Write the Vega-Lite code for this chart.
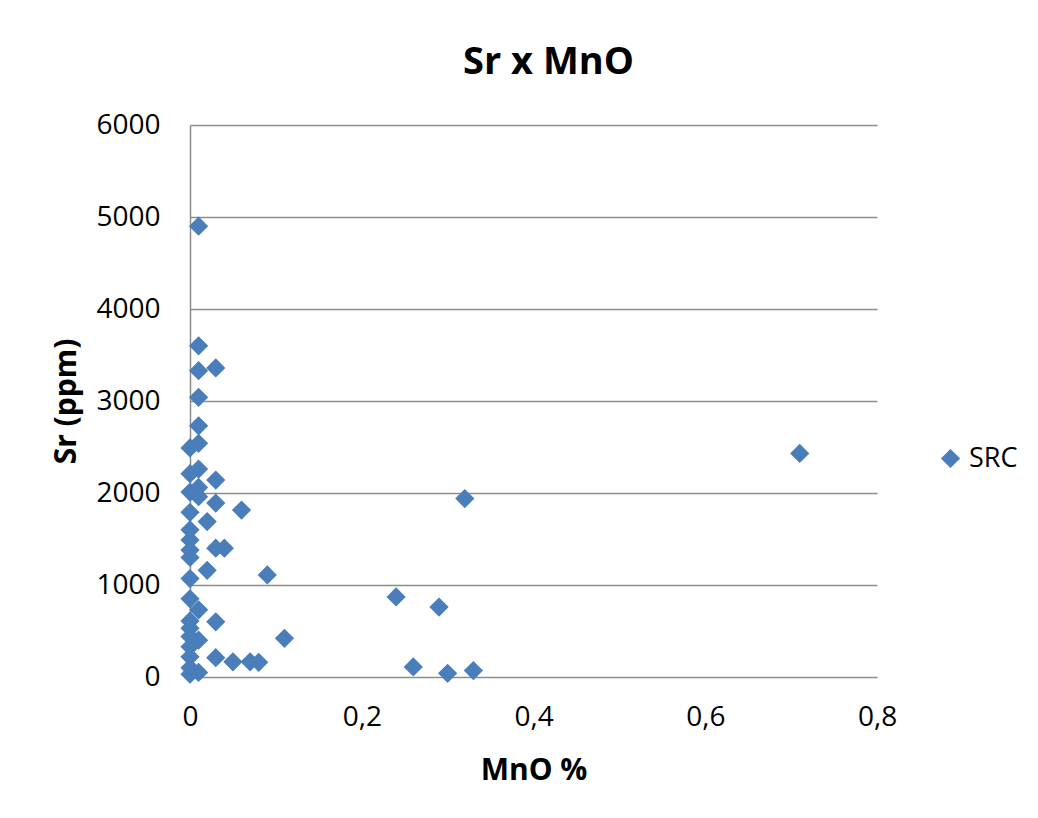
{
  "$schema": "https://vega.github.io/schema/vega-lite/v6.json",
  "autosize": "none",
  "width": 687,
  "height": 552,
  "padding": {"left": 190, "top": 125, "right": 161, "bottom": 141},
  "background": "white",
  "title": {"text": "Sr x MnO", "font": "Open Sans", "fontSize": 38, "fontWeight": "bold", "color": "#000000", "anchor": "middle", "frame": "group", "baseline": "alphabetic", "offset": -1, "dx": 15},
  "config": {
    "view": {"stroke": null},
    "font": "Open Sans"
  },
  "data": {"values": [
    {"mno": 0.01, "sr": 4900, "s": "SRC"},
    {"mno": 0.01, "sr": 3600, "s": "SRC"},
    {"mno": 0.01, "sr": 3330, "s": "SRC"},
    {"mno": 0.03, "sr": 3360, "s": "SRC"},
    {"mno": 0.01, "sr": 3040, "s": "SRC"},
    {"mno": 0.01, "sr": 2730, "s": "SRC"},
    {"mno": 0.01, "sr": 2540, "s": "SRC"},
    {"mno": 0, "sr": 2490, "s": "SRC"},
    {"mno": 0.01, "sr": 2260, "s": "SRC"},
    {"mno": 0, "sr": 2210, "s": "SRC"},
    {"mno": 0.03, "sr": 2140, "s": "SRC"},
    {"mno": 0.01, "sr": 2060, "s": "SRC"},
    {"mno": 0, "sr": 2010, "s": "SRC"},
    {"mno": 0.01, "sr": 1960, "s": "SRC"},
    {"mno": 0.03, "sr": 1890, "s": "SRC"},
    {"mno": 0.06, "sr": 1815, "s": "SRC"},
    {"mno": 0, "sr": 1790, "s": "SRC"},
    {"mno": 0.02, "sr": 1690, "s": "SRC"},
    {"mno": 0, "sr": 1600, "s": "SRC"},
    {"mno": 0, "sr": 1490, "s": "SRC"},
    {"mno": 0, "sr": 1380, "s": "SRC"},
    {"mno": 0, "sr": 1300, "s": "SRC"},
    {"mno": 0.03, "sr": 1400, "s": "SRC"},
    {"mno": 0.04, "sr": 1400, "s": "SRC"},
    {"mno": 0.02, "sr": 1160, "s": "SRC"},
    {"mno": 0.09, "sr": 1110, "s": "SRC"},
    {"mno": 0, "sr": 1070, "s": "SRC"},
    {"mno": 0.32, "sr": 1940, "s": "SRC"},
    {"mno": 0.71, "sr": 2430, "s": "SRC"},
    {"mno": 0.24, "sr": 870, "s": "SRC"},
    {"mno": 0.29, "sr": 760, "s": "SRC"},
    {"mno": 0, "sr": 850, "s": "SRC"},
    {"mno": 0.01, "sr": 730, "s": "SRC"},
    {"mno": 0.03, "sr": 600, "s": "SRC"},
    {"mno": 0, "sr": 610, "s": "SRC"},
    {"mno": 0, "sr": 530, "s": "SRC"},
    {"mno": 0, "sr": 440, "s": "SRC"},
    {"mno": 0.01, "sr": 400, "s": "SRC"},
    {"mno": 0, "sr": 330, "s": "SRC"},
    {"mno": 0, "sr": 220, "s": "SRC"},
    {"mno": 0.03, "sr": 210, "s": "SRC"},
    {"mno": 0.05, "sr": 165, "s": "SRC"},
    {"mno": 0.07, "sr": 165, "s": "SRC"},
    {"mno": 0.08, "sr": 160, "s": "SRC"},
    {"mno": 0.11, "sr": 420, "s": "SRC"},
    {"mno": 0, "sr": 100, "s": "SRC"},
    {"mno": 0.01, "sr": 50, "s": "SRC"},
    {"mno": 0, "sr": 30, "s": "SRC"},
    {"mno": 0.26, "sr": 110, "s": "SRC"},
    {"mno": 0.3, "sr": 40, "s": "SRC"},
    {"mno": 0.33, "sr": 70, "s": "SRC"}
  ]},
  "mark": {"type": "point", "shape": "diamond", "filled": true, "size": 370, "opacity": 1, "clip": false},
  "encoding": {
    "x": {
      "field": "mno", "type": "quantitative",
      "scale": {"domain": [0, 0.8], "nice": false, "zero": true},
      "axis": {
        "values": [0, 0.2, 0.4, 0.6, 0.8],
        "title": "MnO %",
        "titleFont": "Open Sans", "titleFontSize": 30, "titleFontWeight": "bold", "titleColor": "#000000",
        "titlePadding": 24,
        "labelExpr": "datum.value == 0 ? '0' : replace(format(datum.value, '.1f'), '.', ',')",
        "labelFont": "Open Sans", "labelFontSize": 28, "labelColor": "#000000",
        "labelPadding": 26,
        "grid": false, "domain": false, "ticks": false,
        "labelFlush": false, "labelOverlap": false
      }
    },
    "y": {
      "field": "sr", "type": "quantitative",
      "scale": {"domain": [0, 6000], "nice": false},
      "axis": {
        "values": [0, 1000, 2000, 3000, 4000, 5000, 6000],
        "format": "d",
        "title": "Sr (ppm)",
        "titleFont": "Open Sans", "titleFontSize": 30, "titleFontWeight": "bold", "titleColor": "#000000",
        "titlePadding": 14,
        "labelFont": "Open Sans", "labelFontSize": 28, "labelColor": "#000000",
        "labelPadding": 30,
        "grid": true, "gridColor": "#8c8c8c", "gridWidth": 1.5,
        "domain": true, "domainColor": "#8c8c8c", "domainWidth": 1.5,
        "ticks": false,
        "labelFlush": false, "labelOverlap": false
      }
    },
    "color": {
      "field": "s", "type": "nominal",
      "scale": {"range": ["#4a7ebb"]},
      "legend": {
        "title": null,
        "orient": "none",
        "legendX": 747,
        "legendY": 320,
        "symbolType": "diamond",
        "symbolSize": 370,
        "symbolStrokeWidth": 0,
        "labelFont": "Open Sans", "labelFontSize": 27, "labelColor": "#000000",
        "labelOffset": 5,
        "padding": 0
      }
    }
  }
}
